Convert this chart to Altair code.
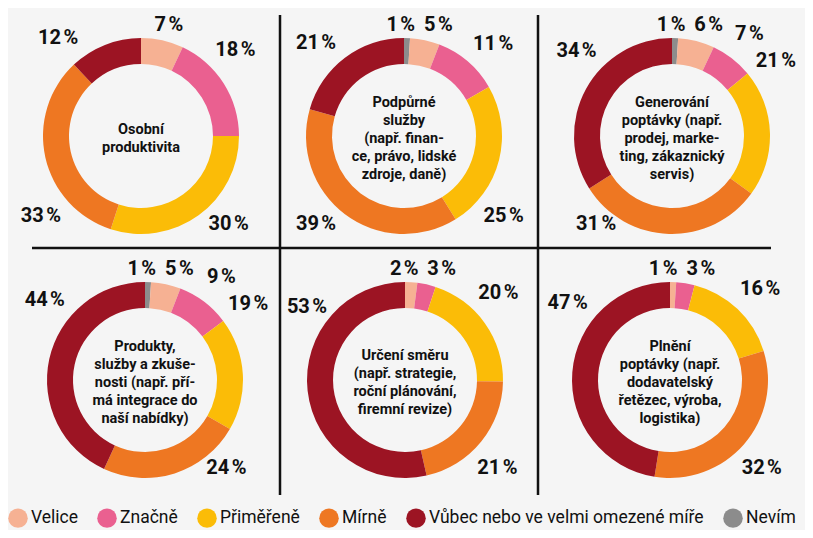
import math
import altair as alt
import pandas as pd

# ---- data ----
CATEGORIES = ["Velice", "Značně", "Přiměřeně", "Mírně",
              "Vůbec nebo ve velmi omezené míře", "Nevím"]
COLORS = ["#f6b193", "#ea6090", "#fbbc07", "#ee7722", "#9c1423", "#8c8c8c"]
STACK_ORDER = ["Nevím", "Velice", "Značně", "Přiměřeně", "Mírně",
               "Vůbec nebo ve velmi omezené míře"]

TITLES = [
    ["Osobní", "produktivita"],
    ["Podpůrné", "služby", "(např. finan-", "ce, právo, lidské", "zdroje, daně)"],
    ["Generování", "poptávky (např.", "prodej, marke-", "ting, zákaznický", "servis)"],
    ["Produkty,", "služby a zkuše-", "nosti (např. pří-", "má integrace do", "naší nabídky)"],
    ["Určení směru", "(např. strategie,", "roční plánování,", "firemní revize)"],
    ["Plnění", "poptávky (např.", "dodavatelský", "řetězec, výroba,", "logistika)"],
]

# values in CATEGORIES order
V_OSOBNI = [7, 18, 30, 33, 12, 0]
V_PODPURNE = [5, 11, 25, 39, 21, 1]
V_GENEROVANI = [6, 7, 21, 31, 34, 1]
V_PRODUKTY = [5, 9, 19, 24, 44, 1]
V_URCENI = [2, 3, 20, 21, 53, 0]
V_PLNENI = [1, 3, 16, 32, 47, 0]
VALUES = [V_OSOBNI, V_PODPURNE, V_GENEROVANI, V_PRODUKTY, V_URCENI, V_PLNENI]

# ---- layout / style ----
CENTERS = [(133, 128), (396, 128), (664, 128), (137, 372), (397, 372), (662, 372)]
W, H = 797, 522
DIV_X = [272, 530]          # vertical dividers
DIV_Y = 240                 # horizontal divider
FONT = "Roboto"
INNER, OUTER = 72, 98
LABEL_R, BOX_X, BOX_TOP, BOX_BOTTOM = 128, 119, 111, 88
LABEL_HALF_W = 27
LINE_H = 18
DIAGONALS = [45, 135, 225, 315]
CELL_X = [(-1e9, DIV_X[0]), (DIV_X[0], DIV_X[1]), (DIV_X[1], 1e9)]


def chart_frame(vals, cx, col):
    rows = []
    for cat in STACK_ORDER:
        v = vals[CATEGORIES.index(cat)]
        if v > 0:
            rows.append({"cat": cat, "value": v, "idx": STACK_ORDER.index(cat),
                         "label": f"{v}\u202f%"})
    total = sum(r["value"] for r in rows)
    cum = 0
    for r in rows:
        start = cum / total * 360
        cum += r["value"]
        end = cum / total * 360
        mid = (start + end) / 2
        if r["value"] / total >= 0.10:
            inside = [d for d in DIAGONALS if start + 10 <= d <= end - 10]
            upper = [d for d in inside if d in (45, 315)]
            if upper and len(inside) > 1:
                d = upper[0]
            elif inside:
                d = min(inside, key=lambda x: abs(x - mid))
            else:
                d = round((mid - 45) / 90) * 90 + 45
            mid = mid + 0.8 * (d - mid)
        r["ang"] = mid
    # spread labels that sit too close together
    rows.sort(key=lambda r: r["ang"])
    for _ in range(30):
        for a, b in zip(rows[:-1], rows[1:]):
            gap = b["ang"] - a["ang"]
            if gap < 17:
                a["ang"] -= (17 - gap) / 2
                b["ang"] += (17 - gap) / 2
    # keep the labels inside the cell around each ring
    lo = max(-BOX_X, CELL_X[col][0] + LABEL_HALF_W - cx)
    hi = min(BOX_X, CELL_X[col][1] - LABEL_HALF_W - cx)
    for r in rows:
        t = math.radians(r["ang"])
        dx = max(lo, min(hi, LABEL_R * math.sin(t)))
        dy = max(-BOX_TOP, min(BOX_BOTTOM, -LABEL_R * math.cos(t)))
        r["lr"] = math.hypot(dx, dy)
        r["la"] = math.degrees(math.atan2(dx, -dy)) % 360
    return pd.DataFrame(rows)


color_scale = alt.Scale(domain=CATEGORIES, range=COLORS)
layers = []
for i, vals in enumerate(VALUES):
    cx, cy = CENTERS[i]
    df = chart_frame(vals, cx, i % 3)
    base = alt.Chart(df)
    arc = base.mark_arc(innerRadius=INNER, outerRadius=OUTER).encode(
        theta=alt.Theta("value:Q", stack=True),
        order=alt.Order("idx:Q"),
        color=alt.Color("cat:N", scale=color_scale,
                        legend=alt.Legend(
                            orient="none", legendX=0, legendY=500,
                            direction="horizontal", title=None,
                            symbolType="circle", symbolSize=380,
                            symbolStrokeWidth=0, labelFont=FONT,
                            labelFontSize=17.5, labelColor="#111",
                            labelLimit=400, labelOffset=3,
                            columnPadding=19, padding=0)),
        x=alt.value(cx), y=alt.value(cy),
    )
    lab = base.mark_text(font=FONT, fontSize=20, fontWeight="bold",
                         color="#111", baseline="middle",
                         align="center").encode(
        theta=alt.Theta("la:Q", scale=alt.Scale(domain=[0, 360])),
        radius=alt.Radius("lr:Q", scale=alt.Scale(type="linear", domain=[0, 200],
                                                   range=[0, 200])),
        text="label:N",
        x=alt.value(cx), y=alt.value(cy),
    )
    n_lines = len(TITLES[i])
    center = alt.Chart(pd.DataFrame({"k": [0]})).mark_text(
        font=FONT, fontSize=14.5, fontWeight="bold", color="#111",
        baseline="middle", align="center", lineHeight=LINE_H,
        dy=3 - (n_lines - 1) * LINE_H / 2).encode(
        text=alt.value(TITLES[i]), x=alt.value(cx), y=alt.value(cy))
    layers += [arc, lab, center]

rule_df = pd.DataFrame({"k": [0]})
rule_style = dict(color="#111", strokeWidth=2.5)
v1 = alt.Chart(rule_df).mark_rule(**rule_style).encode(
    x=alt.value(DIV_X[0]), y=alt.value(7), y2=alt.value(487))
v2 = alt.Chart(rule_df).mark_rule(**rule_style).encode(
    x=alt.value(DIV_X[1]), y=alt.value(7), y2=alt.value(487))
h1 = alt.Chart(rule_df).mark_rule(**rule_style).encode(
    y=alt.value(DIV_Y), x=alt.value(24), x2=alt.value(763))

chart = alt.layer(v1, v2, h1, *layers).resolve_scale(
    theta="independent"
).properties(
    width=W, height=H, background="#f5f5f5", padding=0,
    autosize=alt.AutoSizeParams(type="none"),
).configure_view(strokeWidth=0)

chart.save("out.html", embed_options={"renderer": "svg", "actions": False})
